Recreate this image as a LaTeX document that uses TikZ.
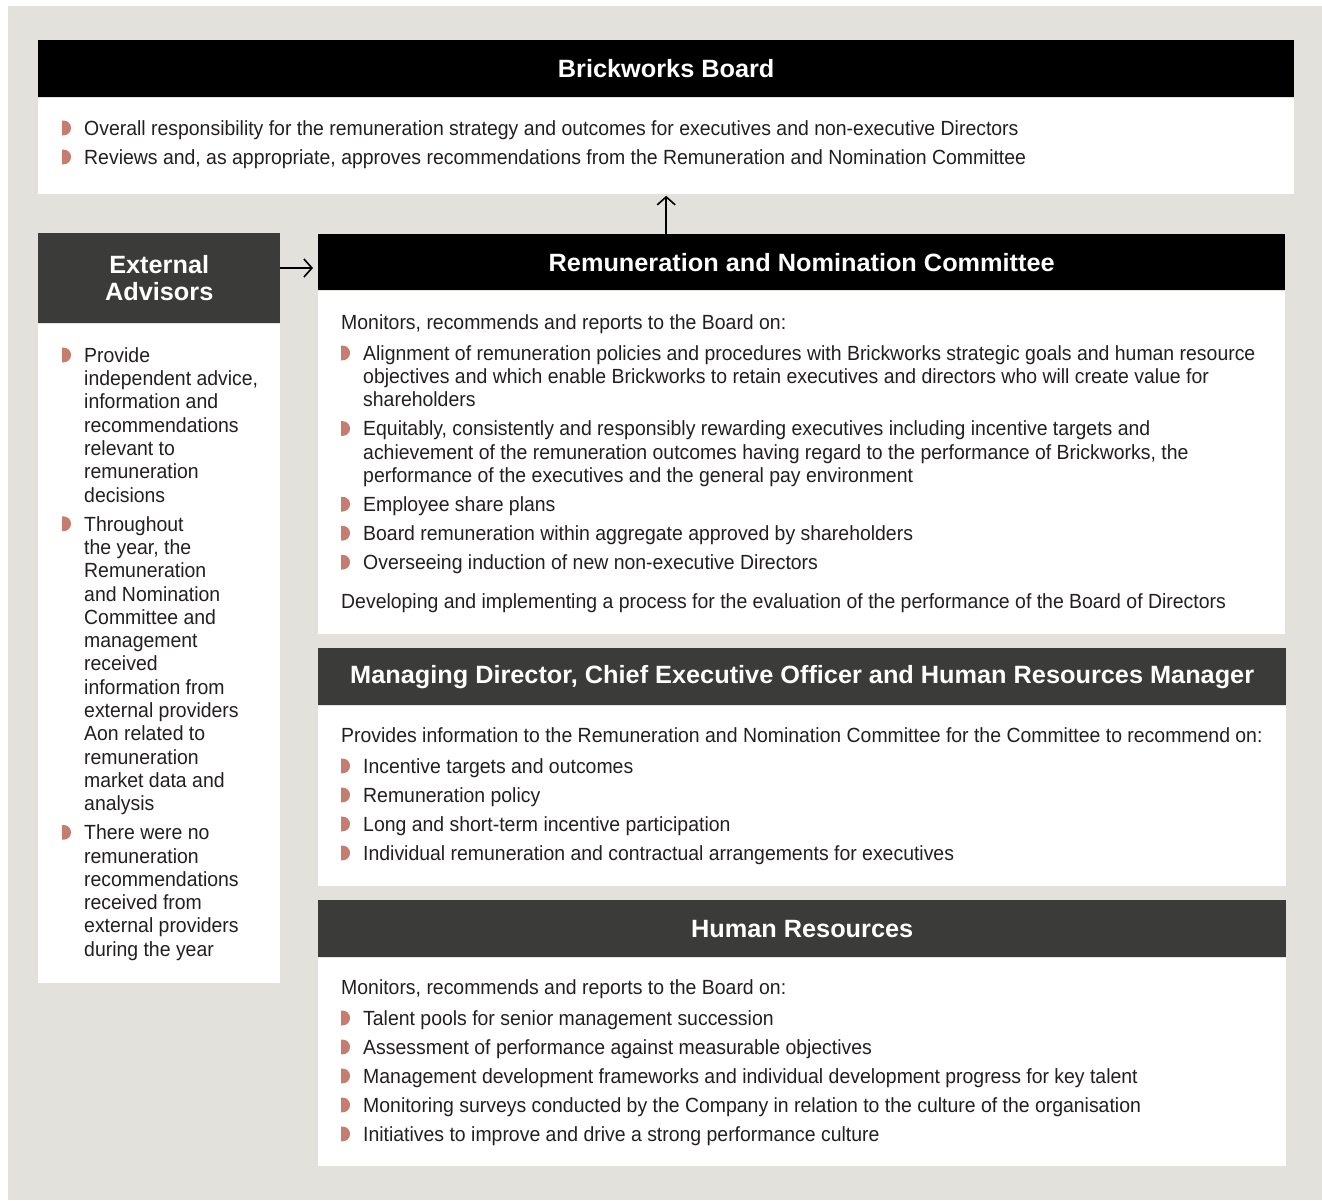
\documentclass[tikz,border=0pt]{standalone}
\usepackage{fontspec}
\setmainfont{Liberation Sans}[FakeStretch=0.948]
\newfontfamily\headfont{Liberation Sans}[FakeStretch=1.012]
\usepackage{enumitem}
\usetikzlibrary{arrows.meta}

\definecolor{pagegrey}{HTML}{E2E1DC}
\definecolor{headgrey}{HTML}{3B3B39}
\definecolor{bulletred}{HTML}{C57D70}
\definecolor{bodytext}{HTML}{231F20}

\newcommand\bodyfont{\fontsize{20.5}{23.3}\selectfont}
\newcommand\halfdot{\tikz[baseline=0pt]\fill[bulletred] (0pt,0pt) -- (1.5pt,0pt) arc[start angle=-90,end angle=90,radius=7.35pt] -- (0pt,14.7pt) -- cycle;}
\newenvironment{pointlist}{\begin{itemize}[label=\halfdot, leftmargin=22pt, labelwidth=9pt, labelsep=13pt, align=left, itemsep=5.7pt, parsep=0pt, topsep=0pt, partopsep=0pt]}{\end{itemize}}
\newcommand\bodytextbox[2]{\begin{minipage}[t]{#1}\raggedright\parindent=0pt\bodyfont #2\end{minipage}}

\tikzset{
  headbar/.style={anchor=north west, inner sep=0pt, fill=black, text=white, align=center,
    font=\headfont\bfseries\fontsize{25}{27}\selectfont},
  bodybox/.style={anchor=north west, inner sep=0pt, fill=white},
  bodytxt/.style={anchor=base west, inner sep=0pt, text=bodytext},
  linkarrow/.style={line width=1.6pt, -{Straight Barb[length=8pt,width=18pt,line width=1.6pt]}}
}

\begin{document}
\begin{tikzpicture}[x=1pt,y=1pt]
\useasboundingbox (0,0) rectangle (1322,-1200);
\fill[white] (0,0) rectangle (1322,-1200);
\fill[pagegrey] (8,-6) rectangle (1322,-1200);

% boxes
\node[headbar, minimum width=1256pt, minimum height=57pt] at (38,-40) (board) {Brickworks Board};
\node[bodybox, minimum width=1256pt, minimum height=96pt] at (board.south west) (boardbody) {};

\node[headbar, fill=headgrey, minimum width=242pt, minimum height=90pt] at (38,-233) (adv) {External\\Advisors};
\node[bodybox, minimum width=242pt, minimum height=659pt] at (adv.south west) (advbody) {};

\node[headbar, minimum width=967pt, minimum height=56pt] at (318,-234) (rnc) {Remuneration and Nomination Committee};
\node[bodybox, minimum width=967pt, minimum height=343pt] at (rnc.south west) (rncbody) {};

\node[headbar, fill=headgrey, minimum width=968pt, minimum height=57pt] at (318,-648) (md) {Managing Director, Chief Executive Officer and Human Resources Manager};
\node[bodybox, minimum width=968pt, minimum height=180pt] at (md.south west) (mdbody) {};

\node[headbar, fill=headgrey, minimum width=968pt, minimum height=57pt] at (318,-900) (hr) {Human Resources};
\node[bodybox, minimum width=968pt, minimum height=208pt] at (hr.south west) (hrbody) {};

% texts
\node[bodytxt] at (62,-135.3) (boardtext) {\bodytextbox{1225pt}{%
\begin{pointlist}
\item Overall responsibility for the remuneration strategy and outcomes for executives and non-executive Directors
\item Reviews and, as appropriate, approves recommendations from the Remuneration and Nomination Committee
\end{pointlist}}};

\node[bodytxt] at (62,-362.3) (advtext) {\bodytextbox{214pt}{%
\begin{pointlist}
\item Provide\\ independent advice,\\ information and\\ recommendations\\ relevant to\\ remuneration\\ decisions
\item Throughout\\ the year, the\\ Remuneration\\ and Nomination\\ Committee and\\ management\\ received\\ information from\\ external providers\\ Aon related to\\ remuneration\\ market data and\\ analysis
\item There were no\\ remuneration\\ recommendations\\ received from\\ external providers\\ during the year
\end{pointlist}}};

\node[bodytxt] at (341,-329.3) (rnctext) {\bodytextbox{944pt}{%
Monitors, recommends and reports to the Board on:\par
\vspace{7.7pt}
\begin{pointlist}
\item Alignment of remuneration policies and procedures with Brickworks strategic goals and human resource\\ objectives and which enable Brickworks to retain executives and directors who will create value for\\ shareholders
\item Equitably, consistently and responsibly rewarding executives including incentive targets and\\ achievement of the remuneration outcomes having regard to the performance of Brickworks, the\\ performance of the executives and the general pay environment
\item Employee share plans
\item Board remuneration within aggregate approved by shareholders
\item Overseeing induction of new non-executive Directors
\end{pointlist}
\vspace{15.7pt}
Developing and implementing a process for the evaluation of the performance of the Board of Directors}};

\node[bodytxt] at (341,-742.3) (mdtext) {\bodytextbox{944pt}{%
Provides information to the Remuneration and Nomination Committee for the Committee to recommend on:\par
\vspace{7.7pt}
\begin{pointlist}
\item Incentive targets and outcomes
\item Remuneration policy
\item Long and short-term incentive participation
\item Individual remuneration and contractual arrangements for executives
\end{pointlist}}};

\node[bodytxt] at (341,-994.3) (hrtext) {\bodytextbox{944pt}{%
Monitors, recommends and reports to the Board on:\par
\vspace{7.7pt}
\begin{pointlist}
\item Talent pools for senior management succession
\item Assessment of performance against measurable objectives
\item Management development frameworks and individual development progress for key talent
\item Monitoring surveys conducted by the Company in relation to the culture of the organisation
\item Initiatives to improve and drive a strong performance culture
\end{pointlist}}};

% links
\coordinate (advto) at (313,-268);
\draw[linkarrow] (adv.east |- advto) -- (advto);
\draw[linkarrow] (boardbody.south |- rnc.north) -- ([yshift=-2pt]boardbody.south);
\end{tikzpicture}
\end{document}
